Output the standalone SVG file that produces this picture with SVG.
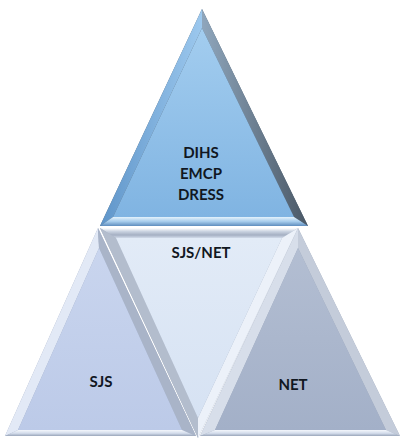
<svg xmlns="http://www.w3.org/2000/svg" width="401" height="442" viewBox="0 0 401 442">
<defs>
<linearGradient id="gTop" x1="0" y1="0" x2="0" y2="1"><stop offset="0" stop-color="#A3CDEF"/><stop offset="1" stop-color="#80B4E2"/></linearGradient>
<linearGradient id="gTopR" x1="0" y1="0" x2="1" y2="0"><stop offset="0" stop-color="#8FA6BC"/><stop offset="1" stop-color="#4A5866"/></linearGradient>
<linearGradient id="gTopL" x1="0" y1="0" x2="1" y2="0"><stop offset="0" stop-color="#5F95C9"/><stop offset="1" stop-color="#9CC8EE"/></linearGradient>
<linearGradient id="gTopB" x1="0" y1="0" x2="0" y2="1"><stop offset="0" stop-color="#E4F2FC"/><stop offset="0.5" stop-color="#A6CCEC"/><stop offset="1" stop-color="#5E8DBE"/></linearGradient>
<linearGradient id="gSJS" x1="0" y1="0" x2="0" y2="1"><stop offset="0" stop-color="#C9D5EE"/><stop offset="1" stop-color="#BCCAE8"/></linearGradient>
<linearGradient id="gMid" x1="0" y1="0" x2="0" y2="1"><stop offset="0" stop-color="#E2EBF7"/><stop offset="1" stop-color="#D6E2F3"/></linearGradient>
<linearGradient id="gNET" x1="0" y1="0" x2="0" y2="1"><stop offset="0" stop-color="#B3BED2"/><stop offset="1" stop-color="#A3B0C8"/></linearGradient>
<linearGradient id="gLowB" x1="0" y1="0" x2="0" y2="1"><stop offset="0" stop-color="#F4F7FC"/><stop offset="0.55" stop-color="#D3DCEB"/><stop offset="1" stop-color="#9AA6BA"/></linearGradient>
<linearGradient id="gMidT" x1="0" y1="0" x2="0" y2="1"><stop offset="0" stop-color="#FFFFFF"/><stop offset="0.35" stop-color="#C9D2E0"/><stop offset="0.7" stop-color="#A4AFC2"/><stop offset="1" stop-color="#D2DBEA"/></linearGradient>
</defs>
<style>
.t{font-family:Lato,"Open Sans","Liberation Sans",sans-serif;font-weight:bold;font-size:15px;fill:#111722;text-anchor:middle}
</style>

<g id="node-sjs">
<polygon points="98,228 5,436 196,436" fill="#9AA7BF"/>
<polygon points="98,228 5,436 18,430 99,248" fill="#E2E9F6"/>
<polygon points="98,228 196,436 182,430 99,248" fill="#A9B4C8"/>
<polygon points="5,436 196,436 182,430 18,430" fill="url(#gLowB)"/>
<polygon points="99,248 18,430 182,430" fill="url(#gSJS)"/>
<text class="t" x="101" y="387">SJS</text>
</g>

<g id="node-net">
<polygon points="298,228 200,436 400,436" fill="#9AA5B9"/>
<polygon points="298,228 200,436 215,430 298,248" fill="#D7DEEA"/>
<polygon points="298,228 400,436 386,430 298,248" fill="#C4CCDA"/>
<polygon points="200,436 400,436 386,430 215,430" fill="url(#gLowB)"/>
<polygon points="298,248 215,430 386,430" fill="url(#gNET)"/>
<text class="t" x="293" y="390">NET</text>
</g>

<g id="node-sjs-net">
<polygon points="100,228 298,228 198,438" fill="#A6B1C4"/>
<polygon points="100,228 298,228 282,238 116,238" fill="url(#gMidT)"/>
<polygon points="100,228 198,438 198,418 116,238" fill="#B3BDCD"/>
<polygon points="298,228 198,438 198,418 282,238" fill="#ECF1F9"/>
<polygon points="116,238 282,238 198,418" fill="url(#gMid)"/>
<text class="t" x="201" y="258">SJS/NET</text>
</g>

<g id="node-top">
<polygon points="202,9 100,226 308,226" fill="#4F6275"/>
<polygon points="202,9 100,226 113,217 202,28" fill="url(#gTopL)"/>
<polygon points="202,9 308,226 294,217 202,28" fill="url(#gTopR)"/>
<polygon points="100,226 308,226 294,217 113,217" fill="url(#gTopB)"/>
<polygon points="202,28 113,217 294,217" fill="url(#gTop)"/>
<text class="t" x="201" y="158">DIHS</text>
<text class="t" x="201" y="179">EMCP</text>
<text class="t" x="201" y="200">DRESS</text>
</g>

<g id="connectors"></g>
</svg>
